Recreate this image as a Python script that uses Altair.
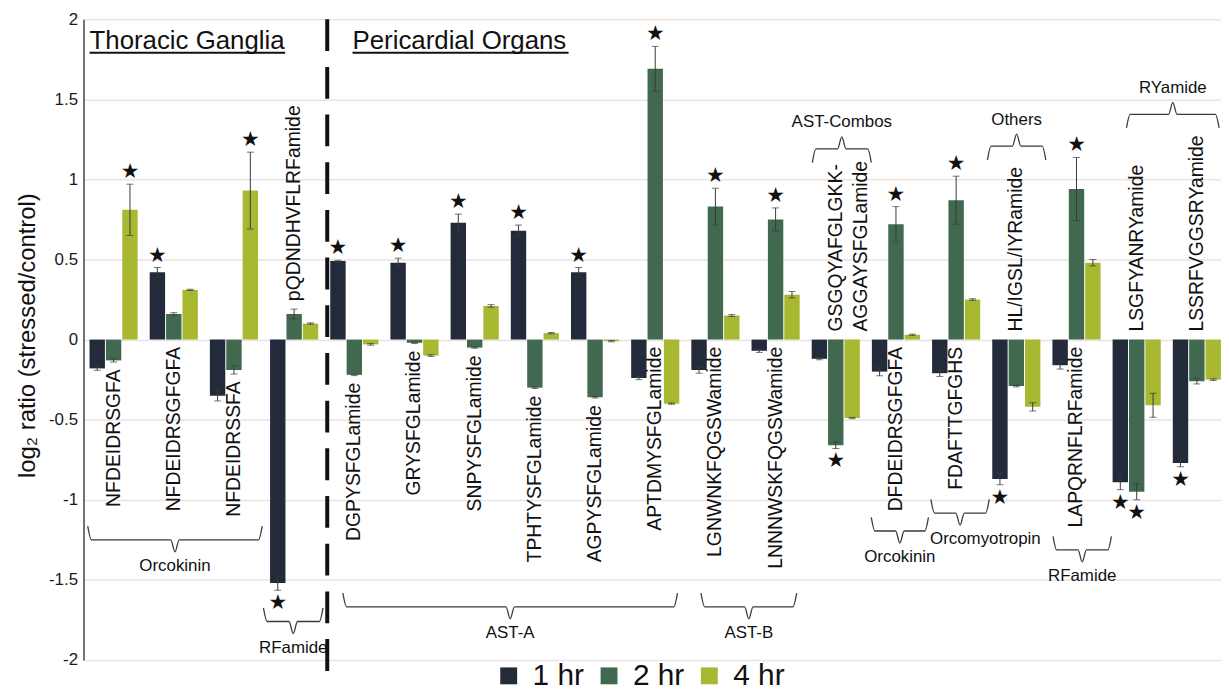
import altair as alt
import pandas as pd

FONT = "Liberation Sans"

# ---------------- data ----------------
peptides = ["NFDEIDRSGFA", "NFDEIDRSGFGFA", "NFDEIDRSSFA", "pQDNDHVFLRFamide",
            "DGPYSFGLamide", "GRYSFGLamide", "SNPYSFGLamide", "TPHTYSFGLamide",
            "AGPYSFGLamide", "APTDMYSFGLamide", "LGNWNKFQGSWamide", "LNNNWSKFQGSWamide",
            "GSGQYAFGLGKK-AGGAYSFGLamide", "DFDEIDRSGFGFA", "FDAFTTGFGHS",
            "HL/IGSL/IYRamide", "LAPQRNFLRFamide", "LSGFYANRYamide", "LSSRFVGGSRYamide"]
timepoints = ["1 hr", "2 hr", "4 hr"]

mean_1hr = [-0.18, 0.42, -0.35, -1.52, 0.49, 0.48, 0.73, 0.68, 0.42, -0.24,
            -0.19, -0.07, -0.12, -0.20, -0.21, -0.87, -0.16, -0.89, -0.77]
err_1hr = [0.012, 0.03, 0.033, 0.045, 0.005, 0.028, 0.053, 0.035, 0.03, 0.01,
           0.02, 0.01, 0.006, 0.026, 0.02, 0.036, 0.024, 0.047, 0.024]
mean_2hr = [-0.13, 0.16, -0.19, 0.16, -0.22, -0.02, -0.05, -0.30, -0.36, 1.69,
            0.83, 0.75, -0.66, 0.72, 0.87, -0.29, 0.94, -0.95, -0.26]
err_2hr = [0.01, 0.008, 0.025, 0.03, 0.005, 0.004, 0.004, 0.005, 0.005, 0.14,
           0.115, 0.072, 0.02, 0.11, 0.15, 0.005, 0.197, 0.05, 0.017]
mean_4hr = [0.81, 0.31, 0.93, 0.10, -0.03, -0.10, 0.21, 0.04, -0.01, -0.40,
            0.15, 0.28, -0.49, 0.03, 0.25, -0.42, 0.48, -0.41, -0.25]
err_4hr = [0.16, 0.004, 0.24, 0.004, 0.005, 0.005, 0.008, 0.004, 0.004, 0.004,
           0.006, 0.02, 0.004, 0.004, 0.005, 0.026, 0.02, 0.075, 0.005]
sig_1hr = [0, 1, 0, 1, 1, 1, 1, 1, 1, 0, 0, 0, 0, 0, 0, 1, 0, 1, 1]
sig_2hr = [0, 0, 0, 0, 0, 0, 0, 0, 0, 1, 1, 1, 1, 1, 1, 0, 1, 1, 0]
sig_4hr = [1, 0, 1, 0, 0, 0, 0, 0, 0, 0, 0, 0, 0, 0, 0, 0, 0, 0, 0]

# family brackets: label, span in peptide-index units, level (log2 units), label shift
bracket_labels = ["Orcokinin", "RFamide", "AST-A", "AST-B", "AST-Combos",
                  "Orcokinin", "Orcomyotropin", "Others", "RFamide", "RYamide"]
bracket_start = [-0.43, 2.49, 3.81, 9.76, 11.61, 12.59, 13.58, 14.52, 15.61, 16.83]
bracket_end = [2.47, 3.48, 9.37, 11.35, 12.59, 13.54, 14.55, 15.49, 16.58, 18.37]
bracket_level = [-1.25, -1.76, -1.668, -1.668, 1.19, -1.195, -1.083, 1.207, -1.313, 1.406]
bracket_label_shift = [0, 0, 0, 0, 0, 0, 0.42, 0, 0, 0]

section_titles = ["Thoracic Ganglia", "Pericardial Organs"]
section_start = [-0.40, 3.97]
section_end = [2.85, 7.56]
section_level = 1.813
tissue_divider = 3.55

colors = ["#232b3a", "#40694f", "#a9b831"]

# ---------------- tables ----------------
rows = []
for t, m, e, s in zip(timepoints, [mean_1hr, mean_2hr, mean_4hr],
                      [err_1hr, err_2hr, err_4hr], [sig_1hr, sig_2hr, sig_4hr]):
    for i, p in enumerate(peptides):
        rows.append(dict(peptide=p, idx=i, time=t, value=m[i], err=e[i], sig=s[i],
                         lo=m[i] - e[i], hi=m[i] + e[i]))
df = pd.DataFrame(rows)

lab_rows = []
for i, p in enumerate(peptides):
    vals = [mean_1hr[i], mean_2hr[i], mean_4hr[i]]
    above = max(vals) < -min(vals)
    if above:
        anchor = max(0.0, mean_2hr[i] + err_2hr[i]) + 0.05
    else:
        anchor = min(0.0, mean_2hr[i] - err_2hr[i]) - 0.045
    lab_rows.append(dict(peptide=p, label=p.replace("-", "-\n"),
                         side="above" if above else "below", anchor=anchor))
lab_df = pd.DataFrame(lab_rows)

br_rows, brl_rows = [], []
for b, (lab, s, e, lev, sh) in enumerate(zip(bracket_labels, bracket_start, bracket_end,
                                              bracket_level, bracket_label_shift)):
    m = (s + e) / 2
    sgn = 1 if lev < 0 else -1
    y_end, y_tip = lev + sgn * 0.085, lev - sgn * 0.075
    pts = [(s, y_end), (s + 0.06, lev), (m - 0.07, lev), (m, y_tip),
           (m + 0.07, lev), (e - 0.06, lev), (e, y_end)]
    for k, (bx, by) in enumerate(pts):
        br_rows.append(dict(bid=b, k=k, bx=bx, by=by))
    brl_rows.append(dict(label=lab, bx=m + sh, by=lev - sgn * 0.165))
br_df = pd.DataFrame(br_rows)
brl_df = pd.DataFrame(brl_rows)

sec_df = pd.DataFrame(dict(title=section_titles, x=section_start, x2=section_end,
                           y=[section_level] * 2, yu=[section_level - 0.022] * 2))
div_df = pd.DataFrame(dict(x=[tissue_divider], y=[2.0], y2=[-2.07]))

# ---------------- scales ----------------
XR = [0, 1151]
xband = alt.Scale(domain=peptides, range=XR, paddingInner=0.2, paddingOuter=0.1)
xidx = alt.Scale(domain=[-0.5, 18.5], range=XR, nice=False, zero=False)
yscale = alt.Scale(domain=[-2, 2], nice=False, zero=False)
xo = alt.XOffset("time:N", scale=alt.Scale(type="band", domain=timepoints,
                                           paddingInner=0.06, paddingOuter=0))
xb = alt.X("peptide:N", scale=xband, axis=None, sort=peptides)

yaxis = alt.Axis(values=[-2, -1.5, -1, -0.5, 0, 0.5, 1, 1.5, 2], labelExpr="datum.value + ''",
                 grid=True, gridColor="#e9e3e4", gridWidth=1.5, ticks=False,
                 domainColor="#444444", domainWidth=1.5, labelFontSize=17, labelColor="#1a1a1a",
                 labelFont=FONT, labelPadding=6, orient="left",
                 title="log\u2082 ratio (stressed/control)", titleFont=FONT, titleFontSize=24,
                 titleFontWeight="normal", titleColor="#111111", titleX=-56, titleY=318,
                 titleAngle=270, titleAlign="center", titleBaseline="middle")

legend = alt.Legend(title=None, orient="none", legendX=413, legendY=646, direction="horizontal",
                    symbolType="square", symbolSize=289, symbolStrokeWidth=0, symbolOpacity=1,
                    labelFontSize=30, labelFont=FONT, labelColor="#111111",
                    columnPadding=10, labelOffset=9)

base = alt.Chart(df)
bars = base.mark_bar().encode(
    x=xb, xOffset=xo,
    y=alt.Y("value:Q", scale=yscale, axis=yaxis, stack=None),
    color=alt.Color("time:N", scale=alt.Scale(domain=timepoints, range=colors), legend=legend),
)
errs = base.mark_rule(color="#3a3a3a", strokeWidth=1).encode(
    x=xb, xOffset=xo, y=alt.Y("lo:Q", scale=yscale, axis=None), y2="hi:Q")
cap_lo = base.mark_tick(color="#3a3a3a", thickness=1, size=7).encode(
    x=xb, xOffset=xo, y=alt.Y("lo:Q", scale=yscale, axis=None))
cap_hi = base.mark_tick(color="#3a3a3a", thickness=1, size=7).encode(
    x=xb, xOffset=xo, y=alt.Y("hi:Q", scale=yscale, axis=None))
stars_up = base.transform_filter("datum.sig == 1 && datum.value > 0").mark_text(
    text="\u2605", font="DejaVu Sans", fontSize=21, dy=-12, baseline="middle", color="#111111"
).encode(x=xb, xOffset=xo, y=alt.Y("hi:Q", scale=yscale, axis=None))
stars_dn = base.transform_filter("datum.sig == 1 && datum.value < 0").mark_text(
    text="\u2605", font="DejaVu Sans", fontSize=21, dy=13, baseline="middle", color="#111111"
).encode(x=xb, xOffset=xo, y=alt.Y("lo:Q", scale=yscale, axis=None))

lab_base = alt.Chart(lab_df)
lab_below = lab_base.transform_filter("datum.side == 'below'").mark_text(
    angle=270, align="right", baseline="middle", fontSize=19.5, font=FONT, color="#111111",
    lineBreak="\n", lineHeight=25
).encode(x=xb, y=alt.Y("anchor:Q", scale=yscale, axis=None), text="label:N")
lab_above = lab_base.transform_filter("datum.side == 'above'").mark_text(
    angle=270, align="left", baseline="middle", fontSize=19.5, font=FONT, color="#111111",
    lineBreak="\n", lineHeight=25
).encode(x=xb, y=alt.Y("anchor:Q", scale=yscale, axis=None), text="label:N")

brackets = alt.Chart(br_df).mark_line(interpolate="monotone", color="#3a3a3a", strokeWidth=1.3).encode(
    x=alt.X("bx:Q", scale=xidx, axis=None), y=alt.Y("by:Q", scale=yscale, axis=None),
    detail="bid:N", order="k:Q")
br_labels = alt.Chart(brl_df).mark_text(fontSize=17, font=FONT, color="#111111", baseline="middle").encode(
    x=alt.X("bx:Q", scale=xidx, axis=None), y=alt.Y("by:Q", scale=yscale, axis=None), text="label:N")

sec_text = alt.Chart(sec_df).mark_text(fontSize=26, font=FONT, color="#111111", align="left",
                                       baseline="alphabetic").encode(
    x=alt.X("x:Q", scale=xidx, axis=None), y=alt.Y("y:Q", scale=yscale, axis=None), text="title:N")
sec_line = alt.Chart(sec_df).mark_rule(color="#111111", strokeWidth=2).encode(
    x=alt.X("x:Q", scale=xidx, axis=None), x2="x2:Q", y=alt.Y("yu:Q", scale=yscale, axis=None))
divider = alt.Chart(div_df).mark_rule(color="#111111", strokeWidth=4, strokeDash=[32, 16]).encode(
    x=alt.X("x:Q", scale=xidx, axis=None), y=alt.Y("y:Q", scale=yscale, axis=None), y2="y2:Q")

chart = alt.layer(
    bars, errs, cap_lo, cap_hi, stars_up, stars_dn, lab_below, lab_above,
    brackets, br_labels, sec_text, sec_line, divider
).resolve_scale(x="independent", xOffset="independent", y="shared").resolve_axis(
    y="independent"
).properties(
    width=1145, height=645,
    padding={"left": 76, "top": 9, "right": 0, "bottom": 33},
    autosize=alt.AutoSizeParams(type="none"),
    background="white",
).configure(font=FONT).configure_view(stroke=None)

chart.save("out.html", embed_options={"renderer": "svg", "actions": False})
